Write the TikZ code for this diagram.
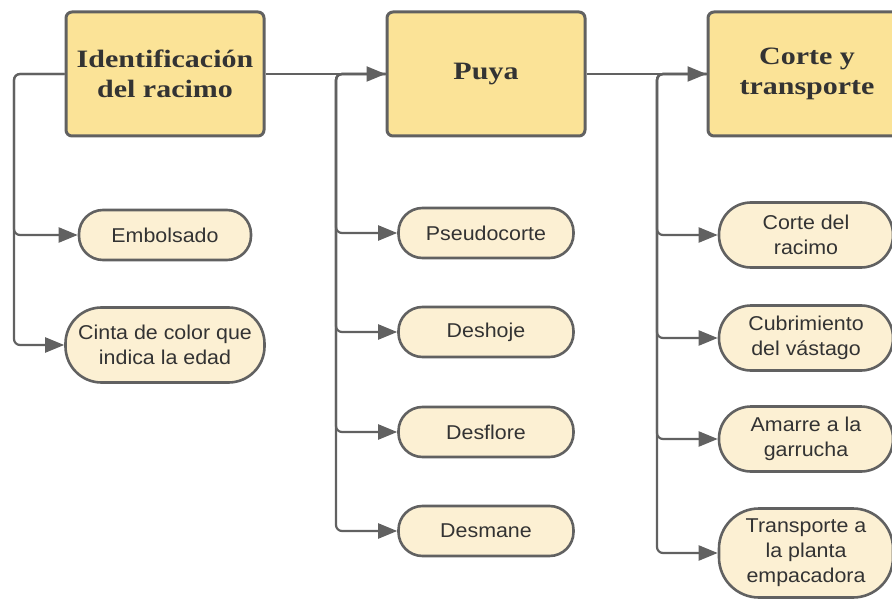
\documentclass[tikz,border=0pt]{standalone}
\usepackage{fontspec}
\setmainfont{Liberation Sans}
\newfontfamily\boxfont[FakeStretch=1.2]{Liberation Serif}
\newfontfamily\pillfont[FakeStretch=1.07]{Liberation Sans}
\usetikzlibrary{arrows.meta}
\definecolor{boxfill}{HTML}{FBE397}
\definecolor{pillfill}{HTML}{FCF0D3}
\definecolor{edge}{HTML}{616161}
\definecolor{txt}{HTML}{333333}
\tikzset{
  mainbox/.style={draw=edge, line width=3pt, fill=boxfill, rounded corners=6pt,
    minimum width=198pt, minimum height=124pt, inner sep=0pt, align=center,
    text=txt, font=\boxfont\bfseries\fontsize{25}{30}\selectfont},
  pill/.style={draw=edge, line width=2.6pt, fill=pillfill, inner sep=0pt, align=center,
    text=txt, font=\pillfont\fontsize{20}{25}\selectfont},
  conn/.style={draw=edge, line width=2.2pt, rounded corners=6pt,
    -{Triangle[length=19pt,width=15pt]}},
}
\begin{document}
\begin{tikzpicture}[x=1pt,y=-1pt]
\clip (0,0) rectangle (892,599);
\useasboundingbox (0,0) rectangle (892,599);
% main boxes
\node[mainbox] (b1) at (165,74) {Identificación\\del racimo};
\node[mainbox] (b2) at (486,74) {Puya};
\node[mainbox] (b3) at (807,74) {Corte y\\transporte};
% left children
\node[pill, minimum width=172pt, minimum height=50pt, rounded corners=24pt] (e1) at (165,235) {Embolsado};
\node[pill, minimum width=199pt, minimum height=75pt, rounded corners=36pt] (e2) at (165,345) {Cinta de color que\\indica la edad};
% middle children
\node[pill, minimum width=175pt, minimum height=50pt, rounded corners=24pt] (p1) at (486,233) {Pseudocorte};
\node[pill, minimum width=175pt, minimum height=50pt, rounded corners=24pt] (p2) at (486,332) {Deshoje};
\node[pill, minimum width=175pt, minimum height=50pt, rounded corners=24pt] (p3) at (486,432) {Desflore};
\node[pill, minimum width=175pt, minimum height=50pt, rounded corners=24pt] (p4) at (486,531) {Desmane};
% right children
\node[pill, minimum width=174pt, minimum height=65pt, rounded corners=32pt] (r1) at (806,235) {Corte del\\racimo};
\node[pill, minimum width=174pt, minimum height=65pt, rounded corners=32pt] (r2) at (806,338) {Cubrimiento\\del vástago};
\node[pill, minimum width=174pt, minimum height=65pt, rounded corners=32pt] (r3) at (806,439) {Amarre a la\\garrucha};
\node[pill, minimum width=174pt, minimum height=89pt, rounded corners=40pt] (r4) at (806,553) {Transporte a\\la planta\\empacadora};
% branch points
\coordinate (t1) at (14,74);
\coordinate (t2) at (336,74);
\coordinate (t3) at (657,74);
% connectors
\draw[conn] (b1.west) -- (t1) |- (e1.west);
\draw[conn] (b1.west) -- (t1) |- (e2.west);
\draw[conn] (b1.east) -- (b2.west);
\draw[conn] (b2.east) -- (b3.west);
\draw[conn] (b2.west) -- (t2) |- (p1.west);
\draw[conn] (b2.west) -- (t2) |- (p2.west);
\draw[conn] (b2.west) -- (t2) |- (p3.west);
\draw[conn] (b2.west) -- (t2) |- (p4.west);
\draw[conn] (b3.west) -- (t3) |- (r1.west);
\draw[conn] (b3.west) -- (t3) |- (r2.west);
\draw[conn] (b3.west) -- (t3) |- (r3.west);
\draw[conn] (b3.west) -- (t3) |- (r4.west);
\end{tikzpicture}
\end{document}
